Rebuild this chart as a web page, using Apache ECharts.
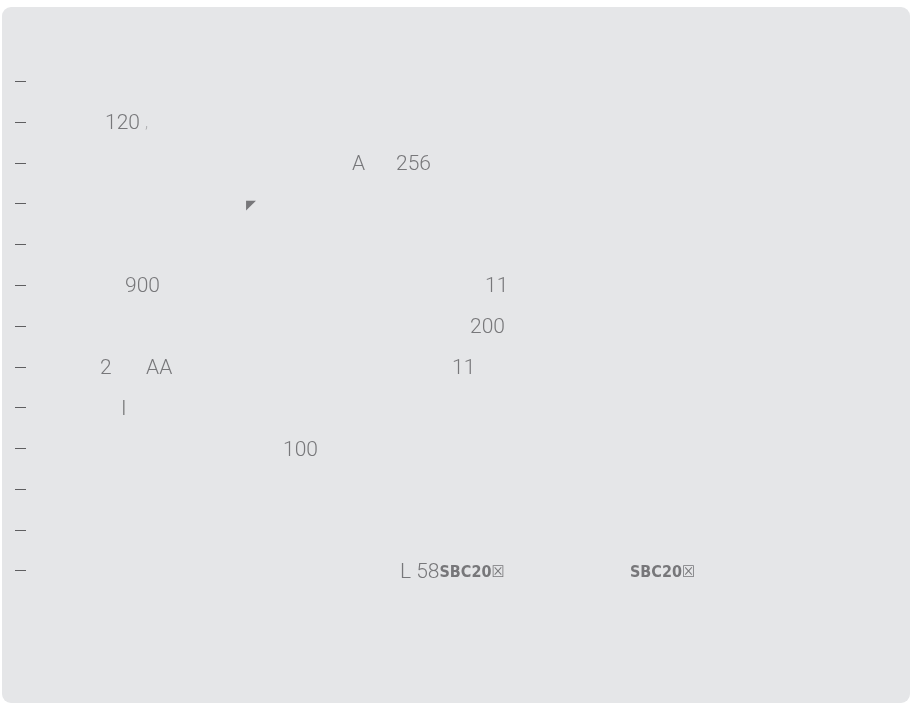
<!DOCTYPE html>
<html>
<head>
<meta charset="utf-8">
<script src="https://cdn.jsdelivr.net/npm/echarts@6/dist/echarts.min.js"></script>
<style>
  html, body { margin: 0; padding: 0; background: #fff; }
  #card { position: absolute; left: 2px; top: 7px; width: 908px; height: 696px; background: #e5e6e8; border-radius: 9px; }
  #main { position: absolute; left: 0; top: 0; width: 911px; height: 704px; }
</style>
</head>
<body>
<div id="card"></div>
<div id="main"></div>
<script>
// rows of the (hidden) category axis, top to bottom
var rows = ['1', '2', '3', '4', '5', '6', '7', '8', '9', '10', '11', '12', '13'];

// scattered labels: text, x position (axis units), row index
var labelText = ['120', ',', 'A', '256', '◤', '900', '11', '200', '2', 'AA', '11', 'I', '100', '{a|L 58}{b|SBC20☒}', '{b|SBC20☒}'];
var labelX    = [79, 119, 326, 370, 220, 99, 459, 444, 74, 120, 426, 95, 257, 374, 604];
var labelRow  = [1, 1, 2, 2, 3, 5, 5, 6, 7, 7, 7, 8, 9, 12, 12];

var points = labelText.map(function (t, i) {
  var p = { name: t, value: [labelX[i], rows[labelRow[i]]] };
  if (t === '◤') {
    p.label = { fontFamily: 'DejaVu Sans', fontSize: 13, fontWeight: 'normal' };
  }
  if (t === ',') {
    p.label = { color: '#9a9a9c', fontSize: 16 };
  }
  return p;
});

var chart = echarts.init(document.getElementById('main'));
chart.setOption({
  backgroundColor: 'transparent',
  animation: false,
  grid: { left: 26, right: 11, top: 61, bottom: 113 },
  xAxis: {
    type: 'value', min: 0, max: 874, show: false
  },
  yAxis: {
    type: 'category',
    inverse: true,
    data: rows,
    axisLine: { show: false },
    axisLabel: { show: false },
    splitLine: { show: false },
    axisTick: {
      show: true, alignWithLabel: true, length: 11,
      lineStyle: { color: '#5e5e60', width: 1 }
    }
  },
  series: [{
    type: 'scatter',
    symbolSize: 0,
    silent: true,
    data: points,
    label: {
      show: true,
      position: 'right',
      distance: 0,
      offset: [0, 2],
      formatter: '{b}',
      color: '#5b5b5e',
      fontFamily: 'Roboto',
      fontWeight: 300,
      fontSize: 21,
      rich: {
        a: { color: '#5b5b5e', fontFamily: 'Roboto', fontWeight: 300, fontSize: 21 },
        b: { color: '#5b5b5e', fontFamily: "'DejaVu Sans Condensed', 'DejaVu Sans'", fontWeight: 'bold', fontSize: 16 }
      }
    }
  }]
});
</script>
</body>
</html>
